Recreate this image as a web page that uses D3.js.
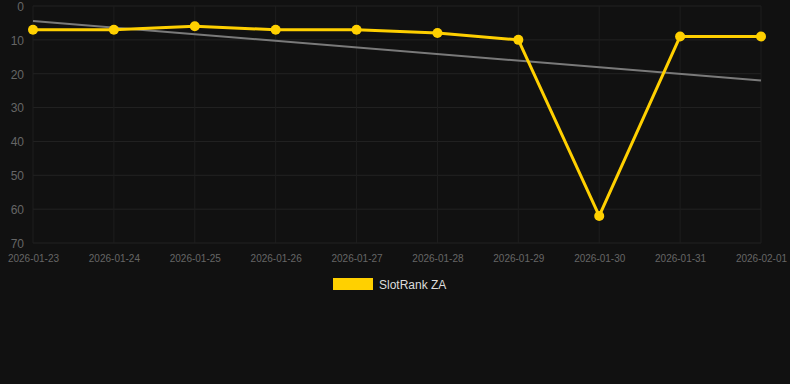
<!DOCTYPE html>
<html>
<head>
<meta charset="utf-8">
<script src="https://cdn.jsdelivr.net/npm/d3@7"></script>
<style>
  body { margin: 0; background: #111111; }
  svg { display: block; font-family: "Liberation Sans", Arial, sans-serif; }
</style>
</head>
<body>
<svg id="chart" width="790" height="384"></svg>
<script>
const dates = ["2026-01-23", "2026-01-24", "2026-01-25", "2026-01-26", "2026-01-27",
  "2026-01-28", "2026-01-29", "2026-01-30", "2026-01-31", "2026-02-01"];
const ranks = [7, 7, 6, 7, 7, 8, 10, 62, 9, 9];
const yTicks = [0, 10, 20, 30, 40, 50, 60, 70];
const seriesName = "SlotRank ZA";

const svg = d3.select("#chart");
const plotLeft = 33, plotRight = 761, plotTop = 6, plotBottom = 243;

const x = d3.scalePoint().domain(dates).range([plotLeft, plotRight]);
const y = d3.scaleLinear().domain([0, 70]).range([plotTop, plotBottom]);

// grid
svg.append("g").selectAll("line").data(yTicks).enter().append("line")
  .attr("x1", plotLeft).attr("x2", plotRight)
  .attr("y1", d => y(d)).attr("y2", d => y(d))
  .attr("stroke", "#232323").attr("stroke-width", 1);
svg.append("g").selectAll("line").data(dates).enter().append("line")
  .attr("x1", d => x(d)).attr("x2", d => x(d))
  .attr("y1", plotTop).attr("y2", plotBottom)
  .attr("stroke", "#1e1e1e").attr("stroke-width", 1);

// axes
const yAxis = svg.append("g")
  .attr("transform", `translate(${plotLeft - 9},0.5)`)
  .call(d3.axisLeft(y).tickValues(yTicks).tickSize(0).tickPadding(0));
yAxis.select(".domain").remove();
yAxis.selectAll("text").attr("fill", "#666").attr("font-size", 12)
  .attr("font-family", "Liberation Sans, Arial, sans-serif");

const xAxis = svg.append("g")
  .attr("transform", `translate(0,${plotBottom + 12})`)
  .call(d3.axisBottom(x).tickSize(0).tickPadding(0));
xAxis.select(".domain").remove();
xAxis.selectAll("text").attr("fill", "#666").attr("font-size", 10)
  .attr("font-family", "Liberation Sans, Arial, sans-serif");

// trend line (least squares)
const n = ranks.length;
const mx = d3.mean(ranks, (d, i) => i);
const my = d3.mean(ranks);
const slope = d3.sum(ranks, (d, i) => (i - mx) * (d - my)) / d3.sum(ranks, (d, i) => (i - mx) * (i - mx));
const icpt = my - slope * mx;
svg.append("line")
  .attr("x1", x(dates[0])).attr("y1", y(icpt))
  .attr("x2", x(dates[n - 1])).attr("y2", y(icpt + slope * (n - 1)))
  .attr("stroke", "#7a7a7a").attr("stroke-width", 2);

// series
const line = d3.line().x((d, i) => x(dates[i])).y(d => y(d));
svg.append("path").datum(ranks)
  .attr("d", line).attr("fill", "none")
  .attr("stroke", "#FFD000").attr("stroke-width", 3)
  .attr("stroke-linejoin", "round");
svg.append("g").selectAll("circle").data(ranks).enter().append("circle")
  .attr("cx", (d, i) => x(dates[i])).attr("cy", d => y(d))
  .attr("r", 5).attr("fill", "#FFD000");

// legend
const legend = svg.append("g").attr("transform", "translate(333,278)");
legend.append("rect").attr("width", 40).attr("height", 12).attr("fill", "#FFD000");
legend.append("text").attr("x", 46).attr("y", 10.5)
  .attr("fill", "#ddd").attr("font-size", 12).text(seriesName);
</script>
</body>
</html>
